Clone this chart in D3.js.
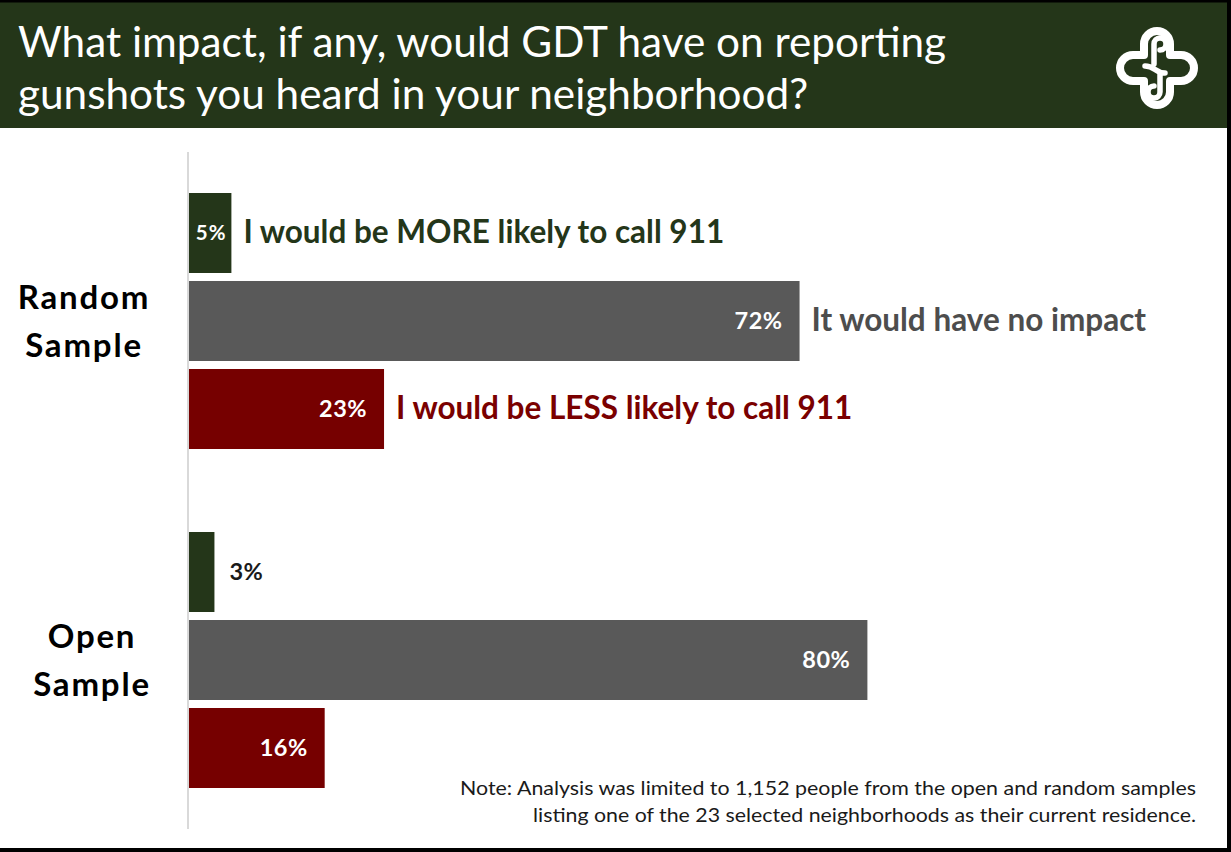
<!DOCTYPE html>
<html>
<head>
<meta charset="utf-8">
<script src="https://cdn.jsdelivr.net/npm/d3@7"></script>
<style>
  html, body { margin: 0; padding: 0; background: #fff; }
  svg { display: block; }
  text { font-family: Lato, "Open Sans", sans-serif; }
</style>
</head>
<body>
<svg id="chart" width="1231" height="852"></svg>
<script>
// Survey question and response data
const titleLines = ["What impact, if any, would GDT have on reporting",
                    "gunshots you heard in your neighborhood?"];
const groups = ["Random Sample", "Open Sample"];
const series = ["more", "none", "less"];
const seriesNames = ["I would be MORE likely to call 911",
                     "It would have no impact",
                     "I would be LESS likely to call 911"];
const randomValues = [5, 72, 23];
const openValues = [3, 80, 16];
const noteLines = ["Note: Analysis was limited to 1,152 people from the open and random samples",
                   "listing one of the 23 selected neighborhoods as their current residence."];

const colors = { more: "#243619", none: "#595959", less: "#760000" };
const labelColors = { more: "#243619", none: "#4d4d4d", less: "#7a0000" };

const rows = [];
[randomValues, openValues].forEach((vals, gi) => {
  vals.forEach((v, si) => rows.push({ group: groups[gi], key: series[si], value: v, gi, si }));
});

const svg = d3.select("#chart");
const W = 1231, H = 852;

// Header band
const headerColor = "#243619";
svg.append("rect").attr("x", 0).attr("y", 0).attr("width", W).attr("height", 128).attr("fill", headerColor);

svg.append("g").selectAll("text").data(titleLines).join("text")
  .attr("x", 18)
  .attr("y", (d, i) => 57 + i * 52)
  .attr("fill", "#fff")
  .attr("font-size", 42.3)
  .text(d => d);

// Logo: a rounded cross with a looped strand through it
const logo = svg.append("g").attr("transform", "translate(1157,68)");
const armW = 13, armL = 37;
const crossPath = `M ${-armW} ${-armL + armW}
  A ${armW} ${armW} 0 0 1 ${armW} ${-armL + armW}
  L ${armW} ${-armW} L ${armL - armW} ${-armW}
  A ${armW} ${armW} 0 0 1 ${armL - armW} ${armW}
  L ${armW} ${armW} L ${armW} ${armL - armW}
  A ${armW} ${armW} 0 0 1 ${-armW} ${armL - armW}
  L ${-armW} ${armW} L ${-armL + armW} ${armW}
  A ${armW} ${armW} 0 0 1 ${-armL + armW} ${-armW}
  L ${-armW} ${-armW} Z`;
const sPath = `M -3 -4 L -3 -24 A 6 6 0 0 1 9 -24 A 6 6 0 0 1 3 -18
  M -12 -2 C -2 -2 -2 5 8 5 M 3 6 L 3 24 A 6 6 0 0 1 -9 24 A 6 6 0 0 1 -3 18`;
logo.append("path").attr("d", crossPath).attr("fill", "none").attr("stroke", "#fff").attr("stroke-width", 8).attr("stroke-linejoin", "round");
logo.append("path").attr("d", sPath).attr("fill", "none").attr("stroke", "#fff").attr("stroke-width", 5.5).attr("stroke-linecap", "round");

// Scales
const x = d3.scaleLinear().domain([0, 100]).range([189, 1037]);
const y0 = d3.scaleBand().domain(groups).range([151.5, 829.5]).padding(0);
const y1 = d3.scaleBand().domain(series).range([41.5, 297.5]).paddingInner(8 / 88).paddingOuter(0);

// Category axis line
svg.append("line")
  .attr("x1", 188).attr("x2", 188)
  .attr("y1", 152).attr("y2", 829)
  .attr("stroke", "#d9d9d9").attr("stroke-width", 2);

// Bars
const bars = svg.append("g");
bars.selectAll("rect").data(rows).join("rect")
  .attr("x", x(0))
  .attr("y", d => y0(d.group) + y1(d.key))
  .attr("width", d => x(d.value) - x(0))
  .attr("height", y1.bandwidth())
  .attr("fill", d => colors[d.key]);

// Value labels: right-aligned inside wide bars, centred in a narrow one,
// and placed past the end of a bar too small to hold the text
function labelPlace(d) {
  if (d.value > 10) return { x: x(d.value) - 17, anchor: "end", fill: "#fff", size: 23.5 };
  if (d.value >= 5) return { x: (x(0) + x(d.value)) / 2 + 1, anchor: "middle", fill: "#fff", size: 20.5 };
  return { x: x(d.value) + 15, anchor: "start", fill: "#1a1a1a", size: 23.5 };
}
bars.selectAll("text").data(rows).join("text")
  .attr("x", d => labelPlace(d).x)
  .attr("y", d => y0(d.group) + y1(d.key) + y1.bandwidth() / 2)
  .attr("dy", "0.36em")
  .attr("text-anchor", d => labelPlace(d).anchor)
  .attr("font-size", d => labelPlace(d).size)
  .attr("letter-spacing", d => d.value >= 5 && d.value <= 10 ? 1 : 0.5)
  .attr("font-weight", 700)
  .attr("fill", d => labelPlace(d).fill)
  .text(d => d.value + "%");

// Series names beside the first group's bars
const firstRows = rows.filter(d => d.gi === 0);
svg.append("g").selectAll("text").data(firstRows).join("text")
  .attr("x", d => x(d.value) + 12)
  .attr("y", d => y0(d.group) + y1(d.key) + y1.bandwidth() / 2)
  .attr("dy", "0.33em")
  .attr("font-size", 31.5)
  .attr("font-weight", 700)
  .attr("fill", d => labelColors[d.key])
  .text(d => seriesNames[d.si]);

// Group labels
const groupLabel = svg.append("g").selectAll("text").data(groups).join("text")
  .attr("x", (d, i) => i === 0 ? 84 : 92)
  .attr("y", d => y0(d) + y0.bandwidth() / 2 - 12)
  .attr("text-anchor", "middle")
  .attr("font-size", 33)
  .attr("font-weight", 700)
  .attr("letter-spacing", 1.8)
  .attr("fill", "#000");
groupLabel.selectAll("tspan").data(d => d.split(" ")).join("tspan")
  .attr("x", function() { return d3.select(this.parentNode).attr("x"); })
  .attr("dy", (d, i) => i === 0 ? 0 : 48)
  .text(d => d);

// Note
const noteWidths = [736, 663];
svg.append("g").selectAll("text").data(noteLines).join("text")
  .attr("x", 1196)
  .attr("y", (d, i) => 795 + i * 27)
  .attr("text-anchor", "end")
  .attr("font-size", 20)
  .attr("textLength", (d, i) => noteWidths[i])
  .attr("lengthAdjust", "spacingAndGlyphs")
  .attr("fill", "#1a1a1a")
  .text(d => d);

// Frame
svg.append("rect").attr("x", 0).attr("y", 0).attr("width", W).attr("height", 2.5).attr("fill", "#000");
svg.append("rect").attr("x", 1227).attr("y", 0).attr("width", 4).attr("height", H).attr("fill", "#000");
svg.append("rect").attr("x", 0).attr("y", 848).attr("width", W).attr("height", 4).attr("fill", "#000");
</script>
</body>
</html>
